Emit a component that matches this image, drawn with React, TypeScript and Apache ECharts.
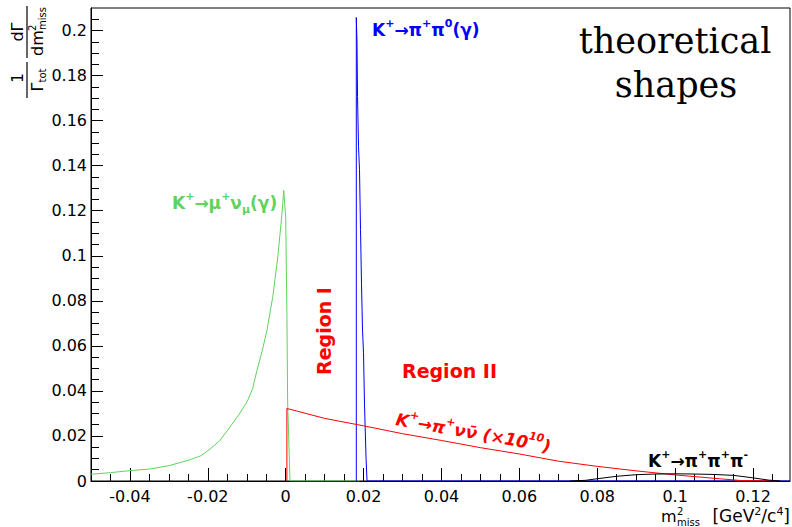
import React, { useEffect, useRef } from "react";
import * as echarts from "echarts";

// ---------- data ----------
const xMajorTicks = [-0.04, -0.02, 0, 0.02, 0.04, 0.06, 0.08, 0.1, 0.12];
const xMinorTicks = [
  -0.045, -0.04, -0.035, -0.03, -0.025, -0.02, -0.015, -0.01, -0.005, 0, 0.005, 0.01, 0.015, 0.02,
  0.025, 0.03, 0.035, 0.04, 0.045, 0.05, 0.055, 0.06, 0.065, 0.07, 0.075, 0.08, 0.085, 0.09, 0.095,
  0.1, 0.105, 0.11, 0.115, 0.12, 0.125,
];
const yMajorTicks = [0, 0.02, 0.04, 0.06, 0.08, 0.1, 0.12, 0.14, 0.16, 0.18, 0.2];
const yMinorTicks = [
  0.005, 0.01, 0.015, 0.025, 0.03, 0.035, 0.045, 0.05, 0.055, 0.065, 0.07, 0.075, 0.085, 0.09, 0.095,
  0.105, 0.11, 0.115, 0.125, 0.13, 0.135, 0.145, 0.15, 0.155, 0.165, 0.17, 0.175, 0.185, 0.19, 0.195,
  0.205,
];

// K+ -> mu+ nu (gamma)
const greenX = [
  -0.05, -0.045, -0.04, -0.035, -0.03, -0.0246, -0.0218, -0.0194, -0.017, -0.0143, -0.012, -0.0099,
  -0.0085, -0.0074, -0.006, -0.0048, -0.0033, -0.002, -0.001, -0.0005, 0.0, 0.0003, 0.0005, 0.0011, 0.019,
];
const greenY = [
  0.003, 0.0037, 0.0046, 0.0053, 0.0068, 0.0094, 0.0112, 0.0142, 0.0178, 0.024, 0.0295, 0.0352,
  0.041, 0.049, 0.058, 0.067, 0.082, 0.1, 0.118, 0.129, 0.117, 0.075, 0.035, 0, 0,
];

// K+ -> pi+ pi0 (gamma)
const blueX = [
  0.01813, 0.01813, 0.01831, 0.01844, 0.0187, 0.01895, 0.01921, 0.01947, 0.01972, 0.01998, 0.02024,
  0.02062, 0.02088, 0.1295,
];
const blueY = [
  0, 0.2058, 0.1947, 0.1707, 0.1484, 0.1382, 0.1116, 0.0871, 0.0671, 0.0569, 0.0338, 0.0107, 0, 0,
];

// K+ -> pi+ nu nubar (x 1e10)
const redX = [0.0003, 0.0003, 0.003, 0.01, 0.02, 0.03, 0.04, 0.05, 0.06, 0.07, 0.08, 0.09, 0.1, 0.11, 0.117, 0.126];
const redY = [0, 0.0322, 0.031, 0.0278, 0.0245, 0.021, 0.018, 0.0148, 0.012, 0.0088, 0.0065, 0.0045, 0.0027, 0.0012, 0.0002, 0];

// K+ -> pi+ pi+ pi-
const blackX = [0.073, 0.077, 0.08, 0.085, 0.09, 0.095, 0.1, 0.105, 0.11, 0.115, 0.12, 0.124, 0.127];
const blackY = [0, 0.0003, 0.001, 0.0021, 0.0028, 0.0031, 0.0032, 0.0031, 0.0029, 0.0025, 0.0014, 0.0004, 0];

// ---------- styling ----------
const GREEN = "#5fd35f";
const BLUE = "#0000ff";
const RED = "#ff0000";
const SANS = "DejaVu Sans";

const zip = (xs: number[], ys: number[]) => xs.map((x, i) => [x, ys[i]]);
const fmt = (v: number) => String(parseFloat(Number(v).toFixed(3)));

const rich = (color: string, size: number, italic = false) => {
  const base = { fill: color, fontWeight: "bold", fontFamily: SANS, fontStyle: italic ? "italic" : "normal" };
  return {
    n: { ...base, fontSize: size, lineHeight: 24, verticalAlign: "middle" },
    sup: { ...base, fontSize: 11, lineHeight: 12, verticalAlign: "top" },
    sub: { ...base, fontSize: 11, lineHeight: 12, verticalAlign: "bottom" },
  };
};

const label = (x: number, y: number, text: string, color: string, size = 17, rotation = 0, italic = false) => ({
  type: "text",
  x,
  y,
  rotation,
  z: 10,
  style: { text, rich: rich(color, size, italic), align: "left", verticalAlign: "middle", fill: color },
});

export default function App() {
  const ref = useRef<HTMLDivElement>(null);
  useEffect(() => {
    if (!ref.current) return;
    const chart = echarts.init(ref.current, undefined, { renderer: "svg" });
    const axisCommon = { lineStyle: { color: "#000", width: 1 } };
    const lineSeries = (name: string, data: number[][], color: string) => ({
      name,
      type: "line",
      data,
      xAxisIndex: 0,
      yAxisIndex: 0,
      showSymbol: false,
      symbol: "none",
      lineStyle: { color, width: 1 },
      itemStyle: { color },
      z: 3,
    });
    chart.setOption({
      animation: false,
      backgroundColor: "#fff",
      grid: { left: 91, right: 2, top: 8, bottom: 46, show: true, borderColor: "#000", borderWidth: 1, containLabel: false },
      xAxis: [
        {
          type: "value",
          min: -0.05,
          max: 0.1295,
          position: "bottom",
          axisLine: { show: true, onZero: false, ...axisCommon },
          axisTick: { show: true, inside: true, length: 13, customValues: xMajorTicks, ...axisCommon },
          axisLabel: {
            customValues: xMajorTicks,
            formatter: fmt,
            fontFamily: SANS,
            fontSize: 16,
            color: "#000",
            margin: 7,
          },
          splitLine: { show: false },
        },
        {
          type: "value",
          min: -0.05,
          max: 0.1295,
          position: "bottom",
          offset: 0,
          axisLine: { show: false, onZero: false },
          axisTick: { show: true, inside: true, length: 7, customValues: xMinorTicks, ...axisCommon },
          axisLabel: { show: false },
          splitLine: { show: false },
        },
      ],
      yAxis: [
        {
          type: "value",
          min: 0,
          max: 0.21,
          position: "left",
          axisLine: { show: true, onZero: false, ...axisCommon },
          axisTick: { show: true, inside: true, length: 12, customValues: yMajorTicks, ...axisCommon },
          axisLabel: {
            customValues: yMajorTicks,
            formatter: fmt,
            fontFamily: SANS,
            fontSize: 16,
            color: "#000",
            margin: 4,
          },
          splitLine: { show: false },
        },
        {
          type: "value",
          min: 0,
          max: 0.21,
          position: "left",
          offset: 0,
          axisLine: { show: false, onZero: false },
          axisTick: { show: true, inside: true, length: 8, customValues: yMinorTicks, ...axisCommon },
          axisLabel: { show: false },
          splitLine: { show: false },
        },
      ],
      series: [
        lineSeries("K→μν(γ)", zip(greenX, greenY), GREEN),
        lineSeries("K→π+π0(γ)", zip(blueX, blueY), BLUE),
        lineSeries("K→πνν (x1e10)", zip(redX, redY), RED),
        lineSeries("K→πππ", zip(blackX, blackY), "#000"),
      ],
      graphic: [
        // y-axis title: 1/Γtot dΓ/dm²miss rotated
        {
          type: "group",
          x: 27,
          y: 110,
          rotation: Math.PI / 2,
          z: 10,
          children: [
            { type: "line", shape: { x1: 12, y1: 0, x2: 48, y2: 0 }, style: { stroke: "#000", lineWidth: 1.2 } },
            {
              type: "text",
              x: 32,
              y: -2,
              style: { text: "1", fontFamily: SANS, fontSize: 15, fill: "#000", align: "center", verticalAlign: "bottom" },
            },
            {
              type: "text",
              x: 30,
              y: 2,
              style: {
                text: "{g|Γ}{s|tot}",
                align: "center",
                verticalAlign: "top",
                rich: {
                  g: { fontFamily: SANS, fontSize: 16, fill: "#000", lineHeight: 18, verticalAlign: "top" },
                  s: { fontFamily: SANS, fontSize: 10, fill: "#000", lineHeight: 10, verticalAlign: "bottom" },
                },
              },
            },
            { type: "line", shape: { x1: 52, y1: 0, x2: 104, y2: 0 }, style: { stroke: "#000", lineWidth: 1.2 } },
            {
              type: "text",
              x: 78,
              y: -2,
              style: { text: "dΓ", fontFamily: SANS, fontSize: 16, fill: "#000", align: "center", verticalAlign: "bottom" },
            },
            {
              type: "text",
              x: 54,
              y: 2,
              style: { text: "dm", fontFamily: SANS, fontSize: 16, fill: "#000", align: "left", verticalAlign: "top" },
            },
            {
              type: "text",
              x: 79,
              y: 0,
              style: { text: "2", fontFamily: SANS, fontSize: 10, fill: "#000", align: "left", verticalAlign: "top" },
            },
            {
              type: "text",
              x: 80,
              y: 10,
              style: { text: "miss", fontFamily: SANS, fontSize: 10, fill: "#000", align: "left", verticalAlign: "top" },
            },
          ],
        },
        // x-axis title
        {
          type: "text",
          x: 661,
          y: 516,
          z: 10,
          style: { text: "m", fontFamily: SANS, fontSize: 16, fill: "#000", align: "left", verticalAlign: "middle" },
        },
        {
          type: "text",
          x: 677,
          y: 511,
          z: 10,
          style: { text: "2", fontFamily: SANS, fontSize: 10, fill: "#000", align: "left", verticalAlign: "middle" },
        },
        {
          type: "text",
          x: 677,
          y: 522,
          z: 10,
          style: { text: "miss", fontFamily: SANS, fontSize: 10, fill: "#000", align: "left", verticalAlign: "middle" },
        },
        {
          type: "text",
          x: 790,
          y: 516,
          z: 10,
          style: {
            text: "{n|[GeV}{s|2}{n|/c}{s|4}{n|]}",
            align: "right",
            verticalAlign: "middle",
            rich: {
              n: { fontFamily: SANS, fontSize: 17, fill: "#000", lineHeight: 20, verticalAlign: "middle" },
              s: { fontFamily: SANS, fontSize: 11, fill: "#000", lineHeight: 12, verticalAlign: "top" },
            },
          },
        },
        // annotations
        label(372, 30, "{n|K}{sup|+}{n|→π}{sup|+}{n|π}{sup|0}{n|(γ)}", BLUE),
        label(172, 203, "{n|K}{sup|+}{n|→μ}{sup|+}{n|ν}{sub|μ}{n|(γ)}", GREEN),
        label(648, 461, "{n|K}{sup|+}{n|→π}{sup|+}{n|π}{sup|+}{n|π}{sup|-}", "#000"),
        label(396, 419, "{n|K}{sup|+}{n|→π}{sup|+}{n|νν\u0304 (×10}{sup|10}{n|)}", RED, 17, -0.175, true),
        {
          type: "text",
          x: 324,
          y: 331,
          rotation: Math.PI / 2,
          z: 10,
          style: {
            text: "Region I",
            fontFamily: SANS,
            fontWeight: "bold",
            fontSize: 19,
            fill: RED,
            align: "center",
            verticalAlign: "middle",
          },
        },
        {
          type: "text",
          x: 402,
          y: 371,
          z: 10,
          style: {
            text: "Region II",
            fontFamily: SANS,
            fontWeight: "bold",
            fontSize: 19,
            fill: RED,
            align: "left",
            verticalAlign: "middle",
          },
        },
        {
          type: "text",
          x: 675,
          y: 41,
          z: 10,
          style: { text: "theoretical", fontFamily: "DejaVu Serif", fontSize: 35, fill: "#000", align: "center", verticalAlign: "middle" },
        },
        {
          type: "text",
          x: 676,
          y: 85,
          z: 10,
          style: { text: "shapes", fontFamily: "DejaVu Serif", fontSize: 35, fill: "#000", align: "center", verticalAlign: "middle" },
        },
      ],
    });
    return () => chart.dispose();
  }, []);
  return <div ref={ref} style={{ position: "fixed", left: 0, top: 0, width: 792, height: 527, background: "#fff" }} />;
}
